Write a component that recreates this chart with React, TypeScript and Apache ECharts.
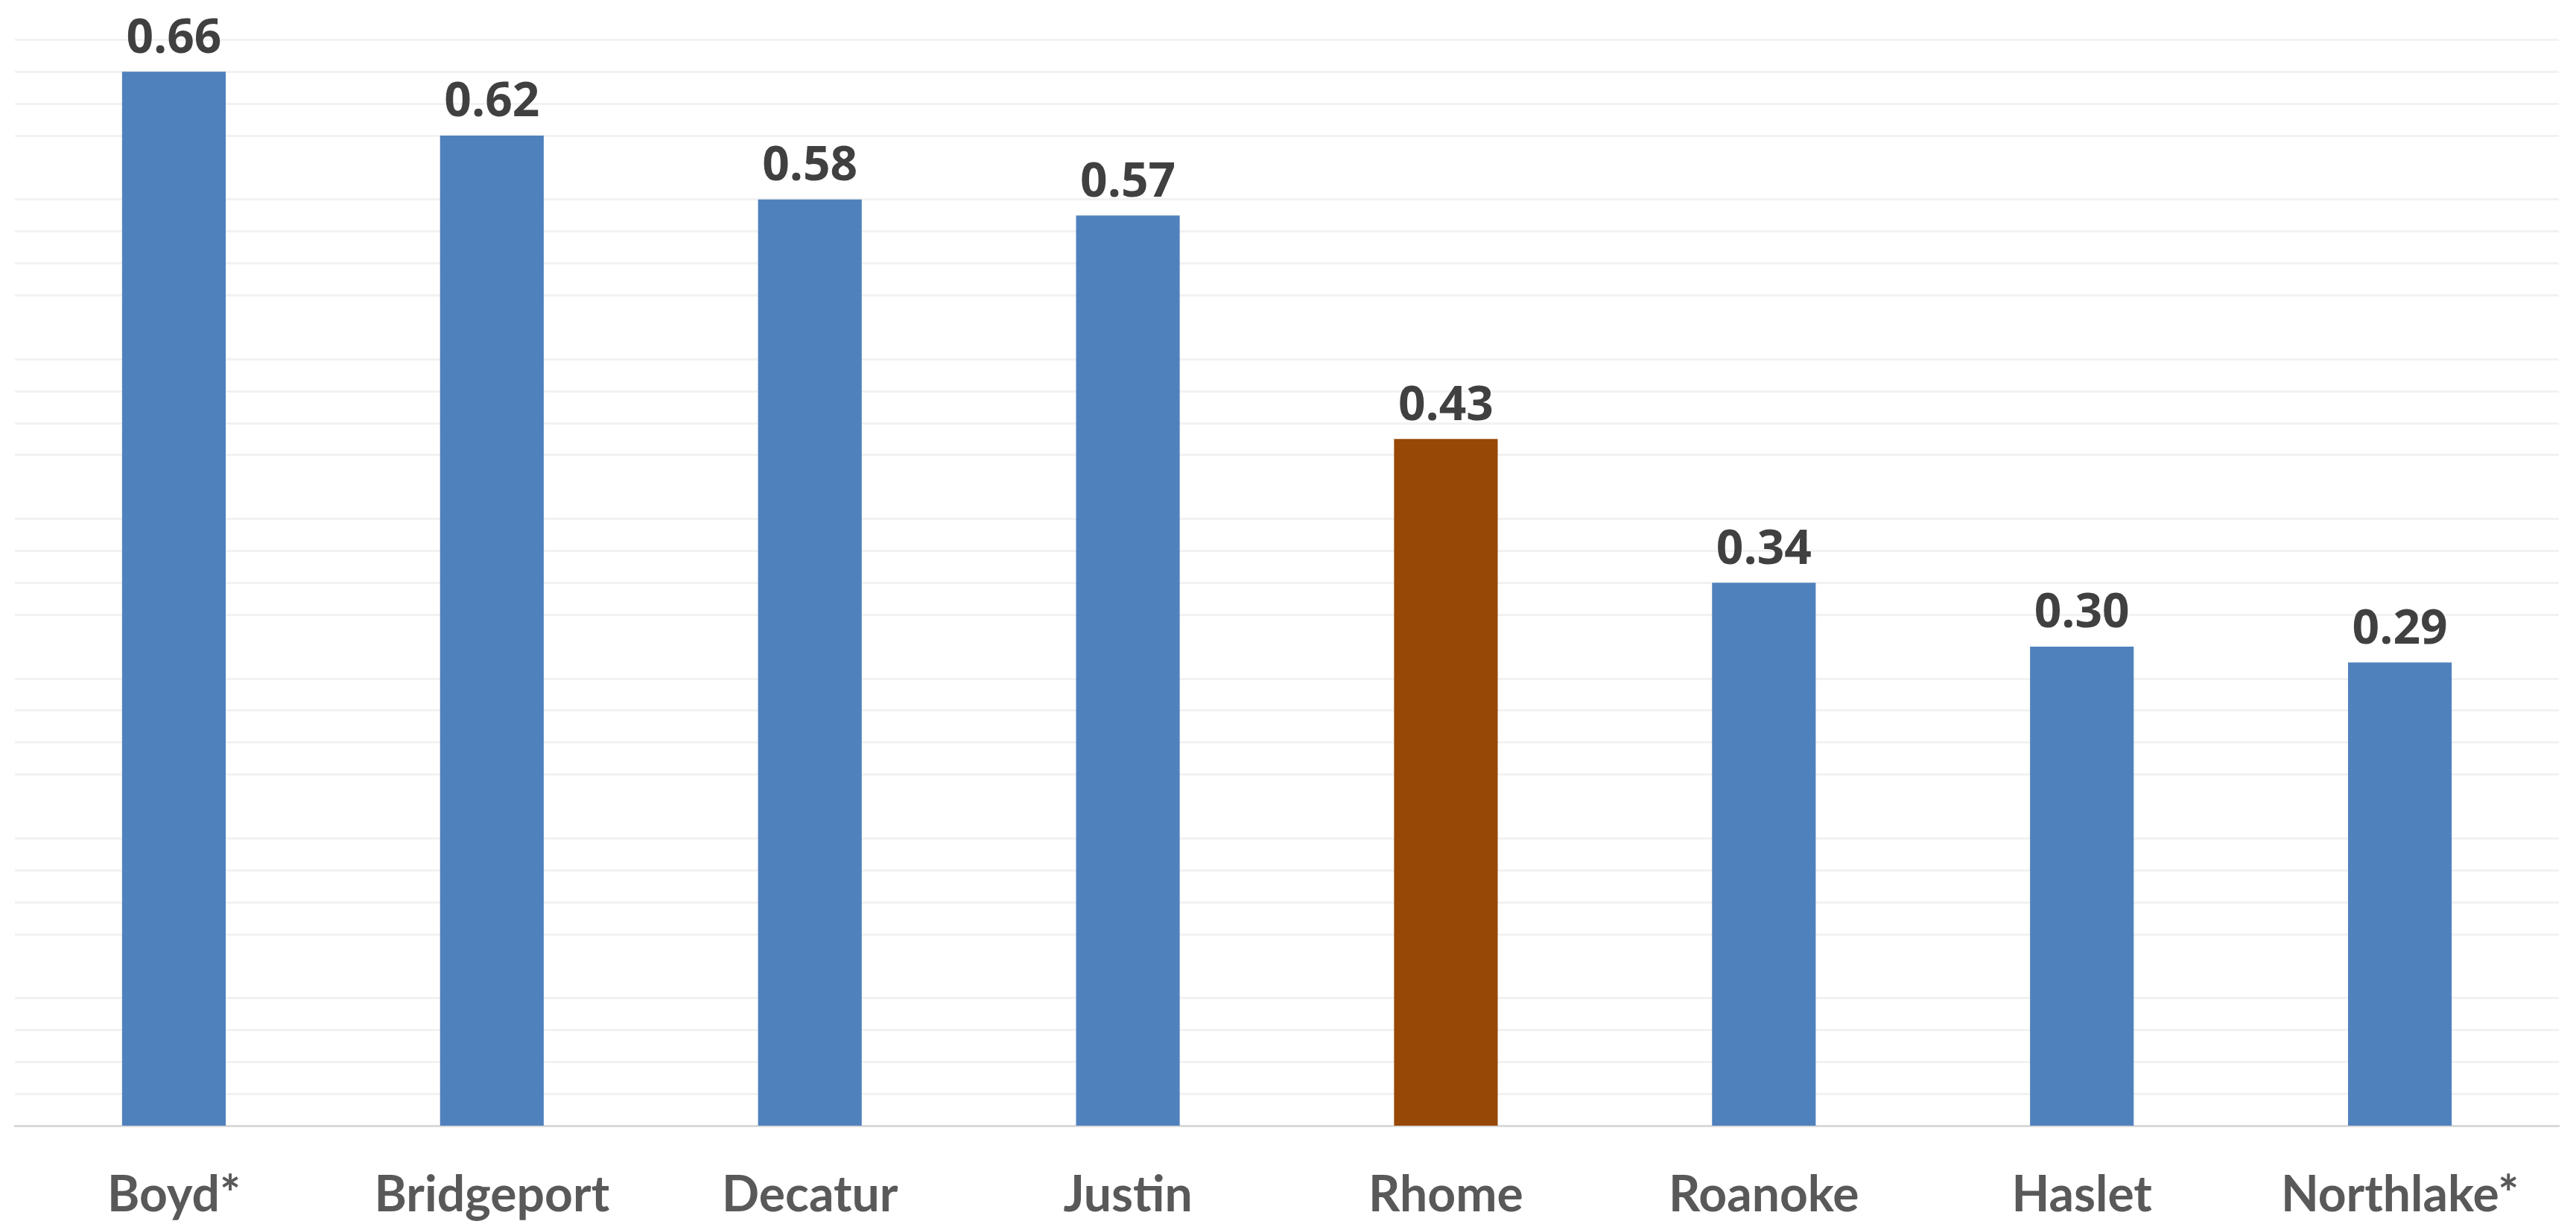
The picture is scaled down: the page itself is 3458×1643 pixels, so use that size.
import React, { useEffect, useRef } from "react";
import * as echarts from "echarts";

const categories = ["Boyd*", "Bridgeport", "Decatur", "Justin", "Rhome", "Roanoke", "Haslet", "Northlake*"];
const values = [0.66, 0.62, 0.58, 0.57, 0.43, 0.34, 0.3, 0.29];
const highlight = "Rhome";

const BLUE = "#4F81BD";
const BROWN = "#974706";

export default function App() {
  const ref = useRef<HTMLDivElement>(null);
  useEffect(() => {
    if (!ref.current) return;
    const chart = echarts.init(ref.current, null, { renderer: "svg" });
    chart.setOption({
      animation: false,
      backgroundColor: "#ffffff",
      grid: { left: 20, right: 23, top: 10.5, bottom: 132, containLabel: false },
      xAxis: {
        type: "category",
        data: categories,
        axisLine: { show: true, lineStyle: { color: "#d9d9d9", width: 3 } },
        axisTick: { show: false },
        axisLabel: {
          interval: 0,
          color: "#595959",
          fontFamily: "Lato",
          fontWeight: "bold",
          fontSize: 66,
          margin: 56,
        },
      },
      yAxis: {
        type: "value",
        min: 0,
        max: 0.7,
        interval: 0.02,
        axisLabel: { show: false },
        axisLine: { show: false },
        axisTick: { show: false },
        splitLine: {
          show: true,
          lineStyle: {
            width: 3,
            color: ["rgba(0,0,0,0)", "#f2f2f2", "#f2f2f2", "#f2f2f2", "#f2f2f2"],
          },
        },
      },
      series: [
        {
          type: "bar",
          data: values.map((v, i) => ({
            value: v,
            itemStyle: { color: categories[i] === highlight ? BROWN : BLUE },
          })),
          barWidth: "32.6%",
          label: {
            show: true,
            position: "top",
            distance: 18,
            color: "#404040",
            fontFamily: "Open Sans",
            fontWeight: "bold",
            fontSize: 64,
            formatter: (p: any) => Number(p.value).toFixed(2),
          },
        },
      ],
    });
    return () => chart.dispose();
  }, []);
  return (
    <div
      ref={ref}
      style={{ position: "fixed", left: 0, top: 0, width: "100vw", height: "100vh" }}
    />
  );
}
